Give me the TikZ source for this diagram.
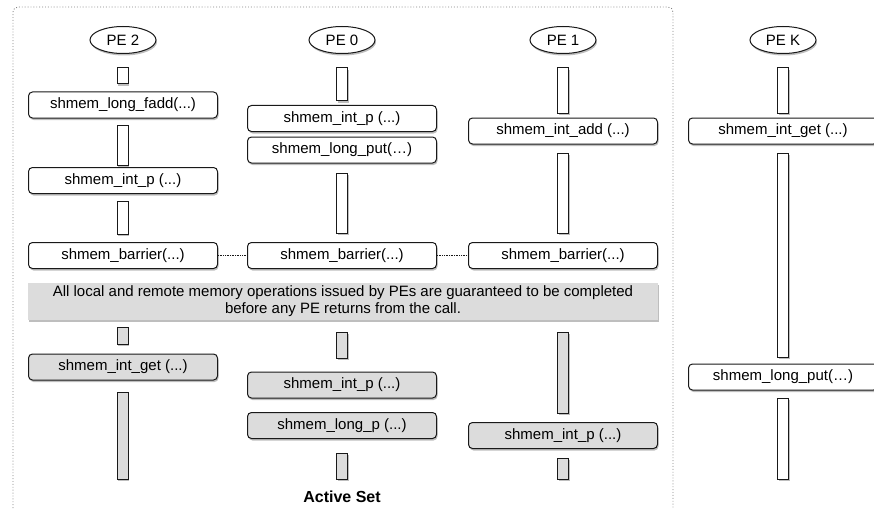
\documentclass[tikz,border=0pt]{standalone}
\usepackage{fontspec}
\setmainfont{Liberation Sans}
\usetikzlibrary{shapes.geometric,shadows}
\definecolor{boxgray}{RGB}{220,220,220}
\definecolor{linegray}{RGB}{25,25,25}
\definecolor{shadowgray}{RGB}{190,190,190}
\definecolor{framegray}{RGB}{130,130,130}
\tikzset{
  x=1pt,y=-1pt,
  shd/.style={drop shadow={shadow xshift=1pt,shadow yshift=-2pt,fill=shadowgray,opacity=1}},
  call/.style={draw=linegray,line width=1pt,rounded corners=4pt,fill=white,minimum width=189pt,minimum height=26pt,inner sep=0pt,font=\fontsize{15}{17}\selectfont,shd},
  gcall/.style={call,fill=boxgray},
  bar/.style={draw=linegray,line width=1pt,fill=white,minimum width=11pt,inner sep=0pt,shd},
  gbar/.style={bar,fill=boxgray},
  pe/.style={ellipse,draw=linegray,line width=1pt,fill=white,minimum width=66pt,minimum height=27pt,inner sep=0pt,font=\fontsize{15}{17}\selectfont,shd},
  banner/.style={fill=boxgray,minimum width=630pt,minimum height=37pt,inner sep=0pt,align=center,font=\fontsize{15}{17}\selectfont,shd},
  sync/.style={densely dotted,line width=0.7pt,draw=linegray},
  frame/.style={dotted,line width=0.9pt,draw=framegray,fill=none}
}
\begin{document}
\begin{tikzpicture}
\useasboundingbox (0,0) rectangle (874,508);
% active set frame
\coordinate (fbl) at (13,508);
\coordinate (ftl) at (13,7);
\coordinate (ftr) at (673,7);
\coordinate (fbr) at (673,508);
\draw[frame,rounded corners=5pt] (fbl) -- (ftl) -- (ftr) -- (fbr);
% PE nodes
\node[pe] (pe2) at (123,40) {PE 2};
\node[pe] (pe0) at (342,40) {PE 0};
\node[pe] (pe1) at (563,40) {PE 1};
\node[pe] (pek) at (783,40) {PE K};
% PE 2 column
\node[bar,minimum height=16pt] (a1) at (122.5,76) {};
\node[call] (afadd) at (123,105) {shmem\_long\_fadd(...)};
\node[bar,minimum height=40pt] (a2) at (122.5,145) {};
\node[call] (aintp) at (123,180.5) {shmem\_int\_p (...)};
\node[bar,minimum height=33pt] (a3) at (122.5,217.5) {};
\node[call] (abar) at (123,255.5) {shmem\_barrier(...)};
\node[gbar,minimum height=17pt] (a4) at (122.5,335.5) {};
\node[gcall] (aget) at (123,367) {shmem\_int\_get (...)};
\node[gbar,minimum height=87pt] (a5) at (122.5,435.5) {};
% PE 0 column
\node[bar,minimum height=33pt] (b1) at (342,84.5) {};
\node[call] (bintp) at (342,118.5) {shmem\_int\_p (...)};
\node[call] (bput) at (342,150) {shmem\_long\_put(…)};
\node[bar,minimum height=60pt] (b2) at (342,203) {};
\node[call] (bbar) at (342,255.5) {shmem\_barrier(...)};
\node[gbar,minimum height=26pt] (b3) at (342,345) {};
\node[gcall] (bintp2) at (342,385) {shmem\_int\_p (...)};
\node[gcall] (blongp) at (342,425.5) {shmem\_long\_p (...)};
\node[gbar,minimum height=26pt] (b4) at (342,466) {};
% PE 1 column
\node[bar,minimum height=45pt] (c1) at (563,90.5) {};
\node[call] (cadd) at (563,131) {shmem\_int\_add (...)};
\node[bar,minimum height=80pt] (c2) at (563,193) {};
\node[call] (cbar) at (563,255.5) {shmem\_barrier(...)};
\node[gbar,minimum height=81pt] (c3) at (563,372.5) {};
\node[gcall] (cintp) at (563,435.5) {shmem\_int\_p (...)};
\node[gbar,minimum height=21pt] (c4) at (563,468.5) {};
% PE K column
\node[bar,minimum height=45pt] (d1) at (783,90.5) {};
\node[call] (dget) at (783,131) {shmem\_int\_get (...)};
\node[bar,minimum height=204pt] (d2) at (783,255) {};
\node[call] (dput) at (783,377) {shmem\_long\_put(…)};
\node[bar,minimum height=81pt] (d3) at (783,438.5) {};
% barrier sync lines
\draw[sync] (abar.east) -- (bbar.west);
\draw[sync] (bbar.east) -- (cbar.west);
% banner
\node[banner] (note) at (343,301.5) {All local and remote memory operations issued by PEs are guaranteed to be completed\\before any PE returns from the call.};
% label
\node[font=\fontsize{16}{19}\selectfont\bfseries] (as) at (342,497) {Active Set};
\end{tikzpicture}
\end{document}
